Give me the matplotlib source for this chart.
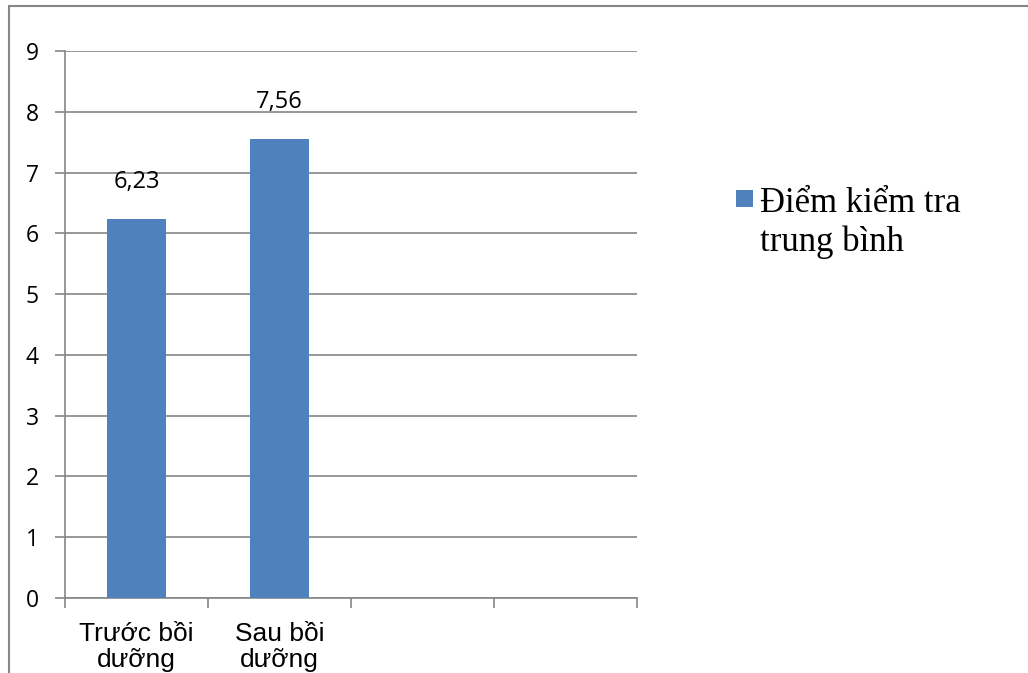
import matplotlib.pyplot as plt
from matplotlib.patches import Rectangle

# data
categories = ['Trước bồi\ndưỡng', 'Sau bồi\ndưỡng', '', '']
scores = [6.23, 7.56]
y_ticks = [0, 1, 2, 3, 4, 5, 6, 7, 8, 9]
series_name = 'Điểm kiểm tra\ntrung bình'

bar_color = '#4F81BD'
line_color = '#868686'

fig = plt.figure(figsize=(10.28, 6.73), dpi=100)

# outer chart border (runs off the right and bottom edges)
fig.patches.append(Rectangle((9 / 1028, -0.05), 1.1, 1 - 6 / 673 + 0.05,
                             transform=fig.transFigure, fill=False,
                             edgecolor=line_color, linewidth=1.5))

ax = fig.add_axes([65 / 1028, 1 - 598 / 673, (637 - 65) / 1028, (598 - 51) / 673])

x_pos = [i + 0.5 for i in range(len(scores))]
bars = ax.bar(x_pos, scores, width=0.41, color=bar_color, zorder=3)

for b, v in zip(bars, scores):
    ax.annotate(f'{v:.2f}'.replace('.', ','), (b.get_x() + b.get_width() / 2, v),
                xytext=(0, 18), textcoords='offset points', ha='center', va='bottom',
                fontsize=17, family='Open Sans', color='black')

ax.set_xlim(0, len(categories))
ax.set_ylim(0, 9)
ax.set_yticks(y_ticks)
ax.set_yticklabels([str(t) for t in y_ticks], fontsize=16.5, family='Open Sans')
ax.yaxis.grid(True, color=line_color, linewidth=1.2, zorder=0)

# category boundaries as ticks, labels centred in each slot
ax.set_xticks(range(len(categories) + 1))
ax.set_xticklabels([])
ax.set_xticks([i + 0.5 for i in range(len(categories))], minor=True)
ax.set_xticklabels(categories, minor=True, fontsize=19, family='Liberation Sans',
                   linespacing=1.15)
ax.tick_params(axis='x', which='minor', length=0, pad=17)
ax.tick_params(axis='x', which='major', length=7, color=line_color, width=1.2, direction='out')
ax.tick_params(axis='y', length=7, color=line_color, width=1.2, pad=12)

for s in ['top', 'right']:
    ax.spines[s].set_visible(False)
for s in ['left', 'bottom']:
    ax.spines[s].set_color(line_color)
    ax.spines[s].set_linewidth(1.2)

# legend drawn beside the plot area
fig.patches.append(Rectangle((736 / 1028, 1 - 207 / 673), 17 / 1028, 17 / 673,
                             transform=fig.transFigure, facecolor=bar_color, edgecolor='none'))
fig.text(760 / 1028, 1 - 251 / 673, series_name, ha='left', va='baseline',
         fontsize=25, family='Liberation Serif', linespacing=1.2)

fig.savefig('out.png', dpi=100)
